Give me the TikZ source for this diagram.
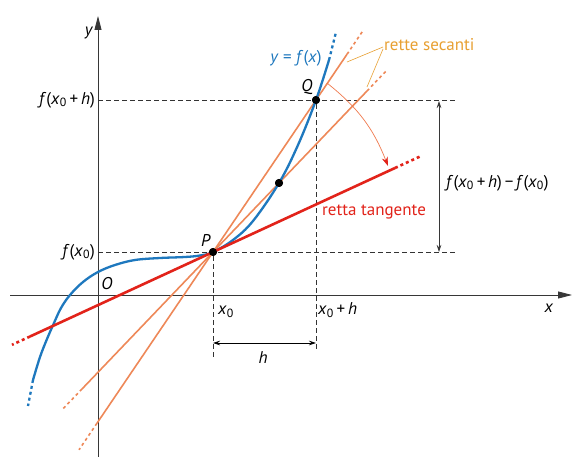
\documentclass[tikz,border=0pt]{standalone}
\usepackage{fontspec}
\setmainfont{PT Sans}
\usetikzlibrary{arrows.meta}
\definecolor{cblue}{RGB}{30,120,190}
\definecolor{corange}{RGB}{238,136,88}
\definecolor{cred}{RGB}{226,35,26}
\definecolor{cyel}{RGB}{232,160,50}
\definecolor{caxis}{RGB}{55,55,55}
\newcommand\iv[1]{\textit{#1}}
\newcommand\zs{\textsubscript{0}}
\begin{document}
\begin{tikzpicture}[x=1pt,y=-1pt,
  axis/.style={draw=caxis, line width=0.9pt},
  guide/.style={draw=black!80, line width=0.9pt, dash pattern=on 4.5pt off 3.5pt},
  curvestyle/.style={draw=cblue, line width=2.3pt},
  tanline/.style={draw=cred, line width=2.6pt},
  secline/.style={draw=corange, line width=1.6pt},
  dashend/.style={dash pattern=on 3pt off 3pt},
  ptdot/.style={circle, fill=black, inner sep=0pt, minimum size=8pt},
  lab/.style={font=\fontsize{17}{19}\selectfont, inner sep=0pt},
  dimarrow/.style={draw=caxis, line width=0.7pt, {Stealth[length=7pt,width=4.5pt]}-{Stealth[length=7pt,width=4.5pt]}},
]
\useasboundingbox[fill=white] (0,0) rectangle (584,457);

% axes
\coordinate (xs) at (10,295);
\coordinate (xe) at (572,295);
\coordinate (ys) at (98,457);
\coordinate (ye) at (98,16);
\draw[axis,-{Triangle[length=14pt,width=7pt]}] (xs) -- (xe);
\draw[axis,-{Triangle[length=14pt,width=7pt]}] (ys) -- (ye);

% key points
\node[ptdot] (P) at (213,252) {};
\node[ptdot] (Q) at (316,100) {};
\node[ptdot] (M) at (279,183) {};

% guide lines
\coordinate (gy1) at (98,100);
\coordinate (gy1e) at (458,100);
\coordinate (gy0) at (98,252);
\coordinate (gy0e) at (458,252);
\coordinate (gx0) at (213,358);
\coordinate (gx1) at (316,350);
\draw[guide] (gy1) -- (gy1e);
\draw[guide] (gy0) -- (gy0e);
\draw[guide] (P) -- (gx0);
\draw[guide] (Q) -- (gx1);

% secant P-Q
\coordinate (s1a) at (97,423.2);
\coordinate (s1b) at (347,54.3);
\coordinate (s1c) at (79,449.8);
\coordinate (s1d) at (363,30.6);
\draw[secline] (s1a) -- (s1b);
\draw[secline,dashend] (s1a) -- (s1c);
\draw[secline,dashend] (s1b) -- (s1d);

% secant P-M
\coordinate (s2a) at (82,389);
\coordinate (s2b) at (367,91);
\coordinate (s2c) at (63,408.8);
\coordinate (s2d) at (386,71.1);
\draw[secline] (s2a) -- (s2b);
\draw[secline,dashend] (s2a) -- (s2c);
\draw[secline,dashend] (s2b) -- (s2d);

% curve
\coordinate (c0) at (28,406);
\coordinate (c1) at (33,380);
\coordinate (c2) at (329,60);
\coordinate (c3) at (336,32);
\draw[curvestyle] plot[smooth, tension=0.6] coordinates {(33,380) (40,357) (47,339) (54,323) (61,308) (70,295) (83,282) (98,272) (115,265) (135,260) (160,258) (185,257) (200,255.5) (213,252) (233,240) (253,221) (279,183) (298,145) (316,100) (329,60)};
\draw[curvestyle,dashend] (c1) -- (c0);
\draw[curvestyle,dashend] (c2) -- (c3);

% tangent
\coordinate (ta) at (30,336.5);
\coordinate (tb) at (395,168);
\coordinate (tc) at (12,344.8);
\coordinate (td) at (420,156.5);
\draw[tanline] (ta) -- (tb);
\draw[tanline,dashend] (ta) -- (tc);
\draw[tanline,dashend] (tb) -- (td);

% redraw dots on top
\node[ptdot] at (P) {};
\node[ptdot] at (Q) {};
\node[ptdot] at (M) {};

% rotation arc
\coordinate (arcA) at (327,83);
\coordinate (arcB) at (388,166);
\draw[draw=corange!90!red, line width=0.7pt, -{Stealth[length=9pt,width=6pt,color=cred]}] (arcA) to[bend left=15] (arcB);

% dimension arrows
\coordinate (d1) at (439,101);
\coordinate (d2) at (439,252);
\draw[dimarrow] (d1) -- (d2);
\coordinate (h1) at (213,343);
\coordinate (h2) at (316,343);
\draw[dimarrow,draw=black] (h1) -- (h2);

% labels
\node[lab] (ylab) at (89,33) {\iv{y}};
\node[lab] (xlab) at (549,308) {\iv{x}};
\node[lab] (Olab) at (107,284) {\iv{O}};
\node[lab] (Plab) at (206,240) {\iv{P}};
\node[lab] (Qlab) at (307,87) {\iv{Q}};
\node[lab,text=cblue] (flab) at (296,58) {\iv{y} = \iv{f}(\iv{x})};
\node[lab,anchor=east] (fxh) at (95,100) {\iv{f}(\iv{x}\zs\,+\,\iv{h})};
\node[lab,anchor=east] (fx0) at (95,252) {\iv{f}(\iv{x}\zs)};
\node[lab] (x0lab) at (226,312) {\iv{x}\zs};
\node[lab,anchor=west] (x1lab) at (318,310) {\iv{x}\zs\,+\,\iv{h}};
\node[lab] (hlab) at (263,358) {\iv{h}};
\node[lab,anchor=west,text=cred] (tlab) at (322,212) {retta tangente};
\node[lab,anchor=west] (dlab) at (446,183) {\iv{f}(\iv{x}\zs\,+\,\iv{h})\,−\,\iv{f}(\iv{x}\zs)};
\node[lab,anchor=west,text=cyel] (slab) at (384,45) {rette secanti};
\coordinate (p1) at (347,62);
\coordinate (p2) at (367,87);
\draw[cyel, line width=0.6pt] (slab.west) ++(-1,2) -- (p1);
\draw[cyel, line width=0.6pt] (slab.west) ++(-1,4) -- (p2);
\end{tikzpicture}
\end{document}
